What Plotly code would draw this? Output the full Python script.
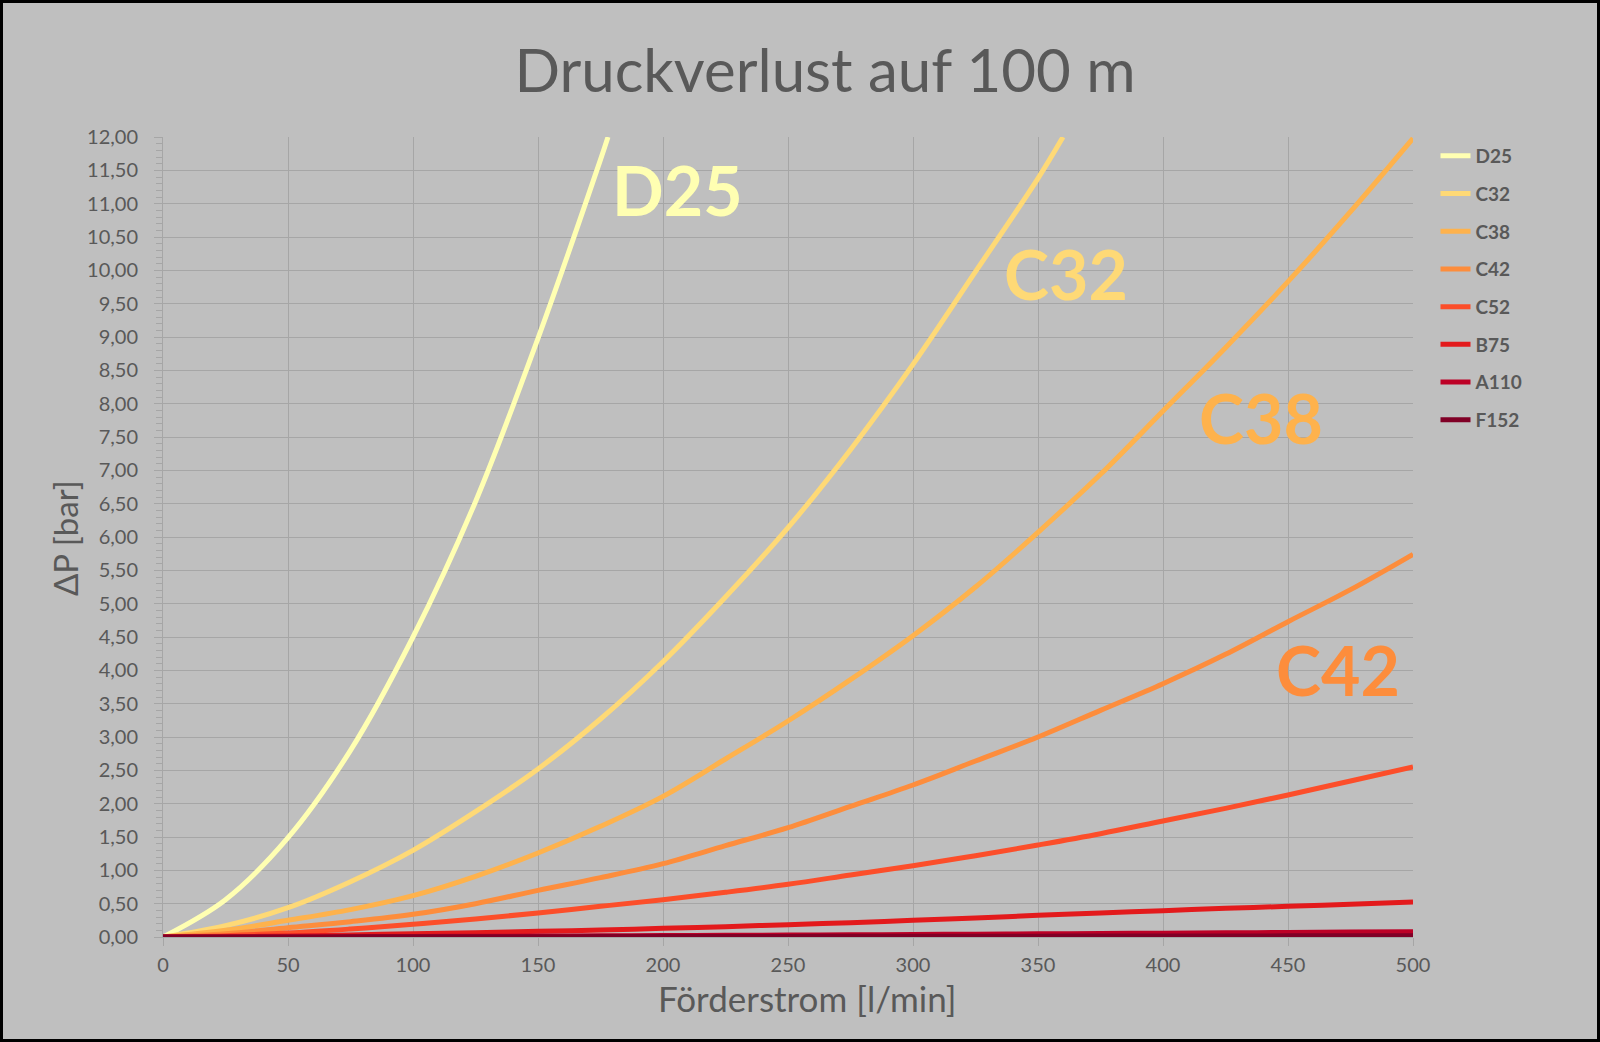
import plotly.graph_objects as go

# ---------------- data ----------------
flow = [0, 25, 50, 75, 100, 125, 150, 175, 200, 225, 250, 275, 300,
        325, 350, 375, 400, 425, 450, 475, 500]

flow_d25 = [0, 25, 50, 75, 100, 125, 150, 175, 178]
dp_d25 = [0.0, 0.56, 1.49, 2.80, 4.50, 6.53, 8.98, 11.66, 12.0]

flow_c32 = [0, 25, 50, 75, 100, 125, 150, 175, 200, 225, 250, 275, 300,
            325, 350, 360]
dp_c32 = [0.0, 0.17, 0.44, 0.83, 1.30, 1.88, 2.52, 3.27, 4.13, 5.10, 6.14,
          7.31, 8.59, 9.98, 11.38, 12.0]

dp_c38 = [0.0, 0.10, 0.25, 0.41, 0.62, 0.91, 1.26, 1.66, 2.11, 2.67, 3.24,
          3.86, 4.52, 5.25, 6.07, 6.94, 7.89, 8.84, 9.83, 10.88, 11.98]
dp_c42 = [0.0, 0.05, 0.14, 0.23, 0.34, 0.50, 0.70, 0.89, 1.10, 1.37, 1.64,
          1.96, 2.28, 2.64, 3.00, 3.40, 3.80, 4.24, 4.73, 5.21, 5.74]
dp_c52 = [0.0, 0.02, 0.06, 0.12, 0.19, 0.27, 0.36, 0.46, 0.56, 0.67, 0.79,
          0.93, 1.07, 1.22, 1.38, 1.55, 1.74, 1.93, 2.13, 2.34, 2.55]
dp_b75 = [0.0, 0.005, 0.015, 0.03, 0.05, 0.065, 0.085, 0.105, 0.13, 0.155,
          0.185, 0.215, 0.25, 0.285, 0.325, 0.36, 0.395, 0.43, 0.46, 0.49, 0.525]
dp_a110 = [0.0, 0.001, 0.003, 0.005, 0.008, 0.011, 0.014, 0.017, 0.021, 0.025,
           0.029, 0.033, 0.037, 0.042, 0.047, 0.052, 0.057, 0.062, 0.068,
           0.074, 0.08]
dp_f152 = [0.0, 0.0005, 0.001, 0.002, 0.003, 0.004, 0.005, 0.006, 0.007,
           0.008, 0.009, 0.010, 0.011, 0.012, 0.013, 0.014, 0.015, 0.016,
           0.017, 0.018, 0.02]

series_names = ["D25", "C32", "C38", "C42", "C52", "B75", "A110", "F152"]
series_x = [flow_d25, flow_c32, flow, flow, flow, flow, flow, flow]
series_y = [dp_d25, dp_c32, dp_c38, dp_c42, dp_c52, dp_b75, dp_a110, dp_f152]
series_colors = ["#FFFFB2", "#FED976", "#FEB24C", "#FD8D3C", "#FC4E2A",
                 "#E31A1C", "#BD0026", "#800026"]

# labels placed on the chart (name, x, y in data units)
label_names = ["D25", "C32", "C38", "C42"]
label_x = [205.7, 361.3, 439.3, 470.0]
label_y = [11.22, 9.96, 7.79, 4.01]
label_colors = ["#FFFFB2", "#FED976", "#FEB24C", "#FD8D3C"]

title_text = "Druckverlust auf 100 m"
x_title = "Förderstrom [l/min]"
y_title = "ΔP [bar]"

# ---------------- figure ----------------
BG = "#BFBFBF"
GRID = "#A6A6A6"
TXT = "#595959"
FONT = "Lato"

fig = go.Figure()
for name, xs, ys, col in zip(series_names, series_x, series_y, series_colors):
    fig.add_trace(go.Scatter(
        x=xs, y=ys, mode="lines", name=name, legendgroup=name,
        line=dict(color=col, width=5, shape="spline", smoothing=1.0),
        hoverinfo="x+y+name",
    ))

for t, x, y, c in zip(label_names, label_x, label_y, label_colors):
    fig.add_annotation(x=x, y=y, xref="x", yref="y", text=t, showarrow=False,
                       font=dict(family=FONT, size=68, color=c, weight="bold"),
                       xanchor="center", yanchor="middle")

W, H = 1600, 1042
ML, MR, MT, MB = 163, 187, 137, 105
PW = W - ML - MR
PH = H - MT - MB

# axis titles as annotations (positioned like the reference)
fig.add_annotation(text=x_title, xref="paper", yref="paper",
                   x=(807 - ML) / PW, y=-(998 - (H - MB)) / PH,
                   xanchor="center", yanchor="middle", showarrow=False,
                   font=dict(family=FONT, size=35, color=TXT))
fig.add_annotation(text=y_title, xref="paper", yref="paper", textangle=-90,
                   x=(65 - ML) / PW, y=((H - MB) - 538) / PH,
                   xanchor="center", yanchor="middle", showarrow=False,
                   font=dict(family=FONT, size=33, color=TXT))

fig.update_layout(
    width=W, height=H, autosize=False,
    margin=dict(l=ML, r=MR, t=MT, b=MB, pad=0),
    paper_bgcolor=BG, plot_bgcolor=BG,
    separators=",.",
    font=dict(family=FONT, color=TXT),
    title=dict(text=title_text, x=825 / W, xref="container", xanchor="center",
               y=1 - 71 / H, yref="container", yanchor="middle",
               font=dict(family=FONT, size=60, color=TXT)),
    showlegend=True,
    legend=dict(x=1.018, xanchor="left", y=1.0, yanchor="top",
                font=dict(family=FONT, size=19, color=TXT, weight="bold"),
                bgcolor="rgba(0,0,0,0)", tracegroupgap=10,
                itemwidth=30),
    xaxis=dict(range=[0, 500], dtick=50, tick0=0,
               showgrid=True, gridcolor=GRID, gridwidth=1,
               showline=True, linecolor=GRID, linewidth=1,
               ticks="outside", ticklen=8, tickcolor=GRID,
               tickfont=dict(family=FONT, size=20, color=TXT),
               ticklabelstandoff=2,
               zeroline=False),
    yaxis=dict(range=[0, 12], dtick=0.5, tick0=0, tickformat=".2f",
               showgrid=True, gridcolor=GRID, gridwidth=1,
               showline=True, linecolor=GRID, linewidth=1,
               ticks="outside", ticklen=8, tickcolor=GRID,
               minor=dict(dtick=0.1, ticks="outside", ticklen=6,
                          tickcolor=GRID, showgrid=False),
               tickfont=dict(family=FONT, size=20, color=TXT),
               ticklabelstandoff=12,
               zeroline=False),
)

# black frame around the whole chart
fig.add_shape(type="rect", xref="paper", yref="paper",
              x0=(1.5 - ML) / PW, x1=(W - 1.5 - ML) / PW,
              y0=-(MB - 1.5) / PH, y1=1 + (MT - 1.5) / PH,
              line=dict(color="black", width=3), fillcolor="rgba(0,0,0,0)",
              layer="above")

fig.write_html("out.html", config={"displayModeBar": False},
               post_script="document.body.style.margin='0';")
